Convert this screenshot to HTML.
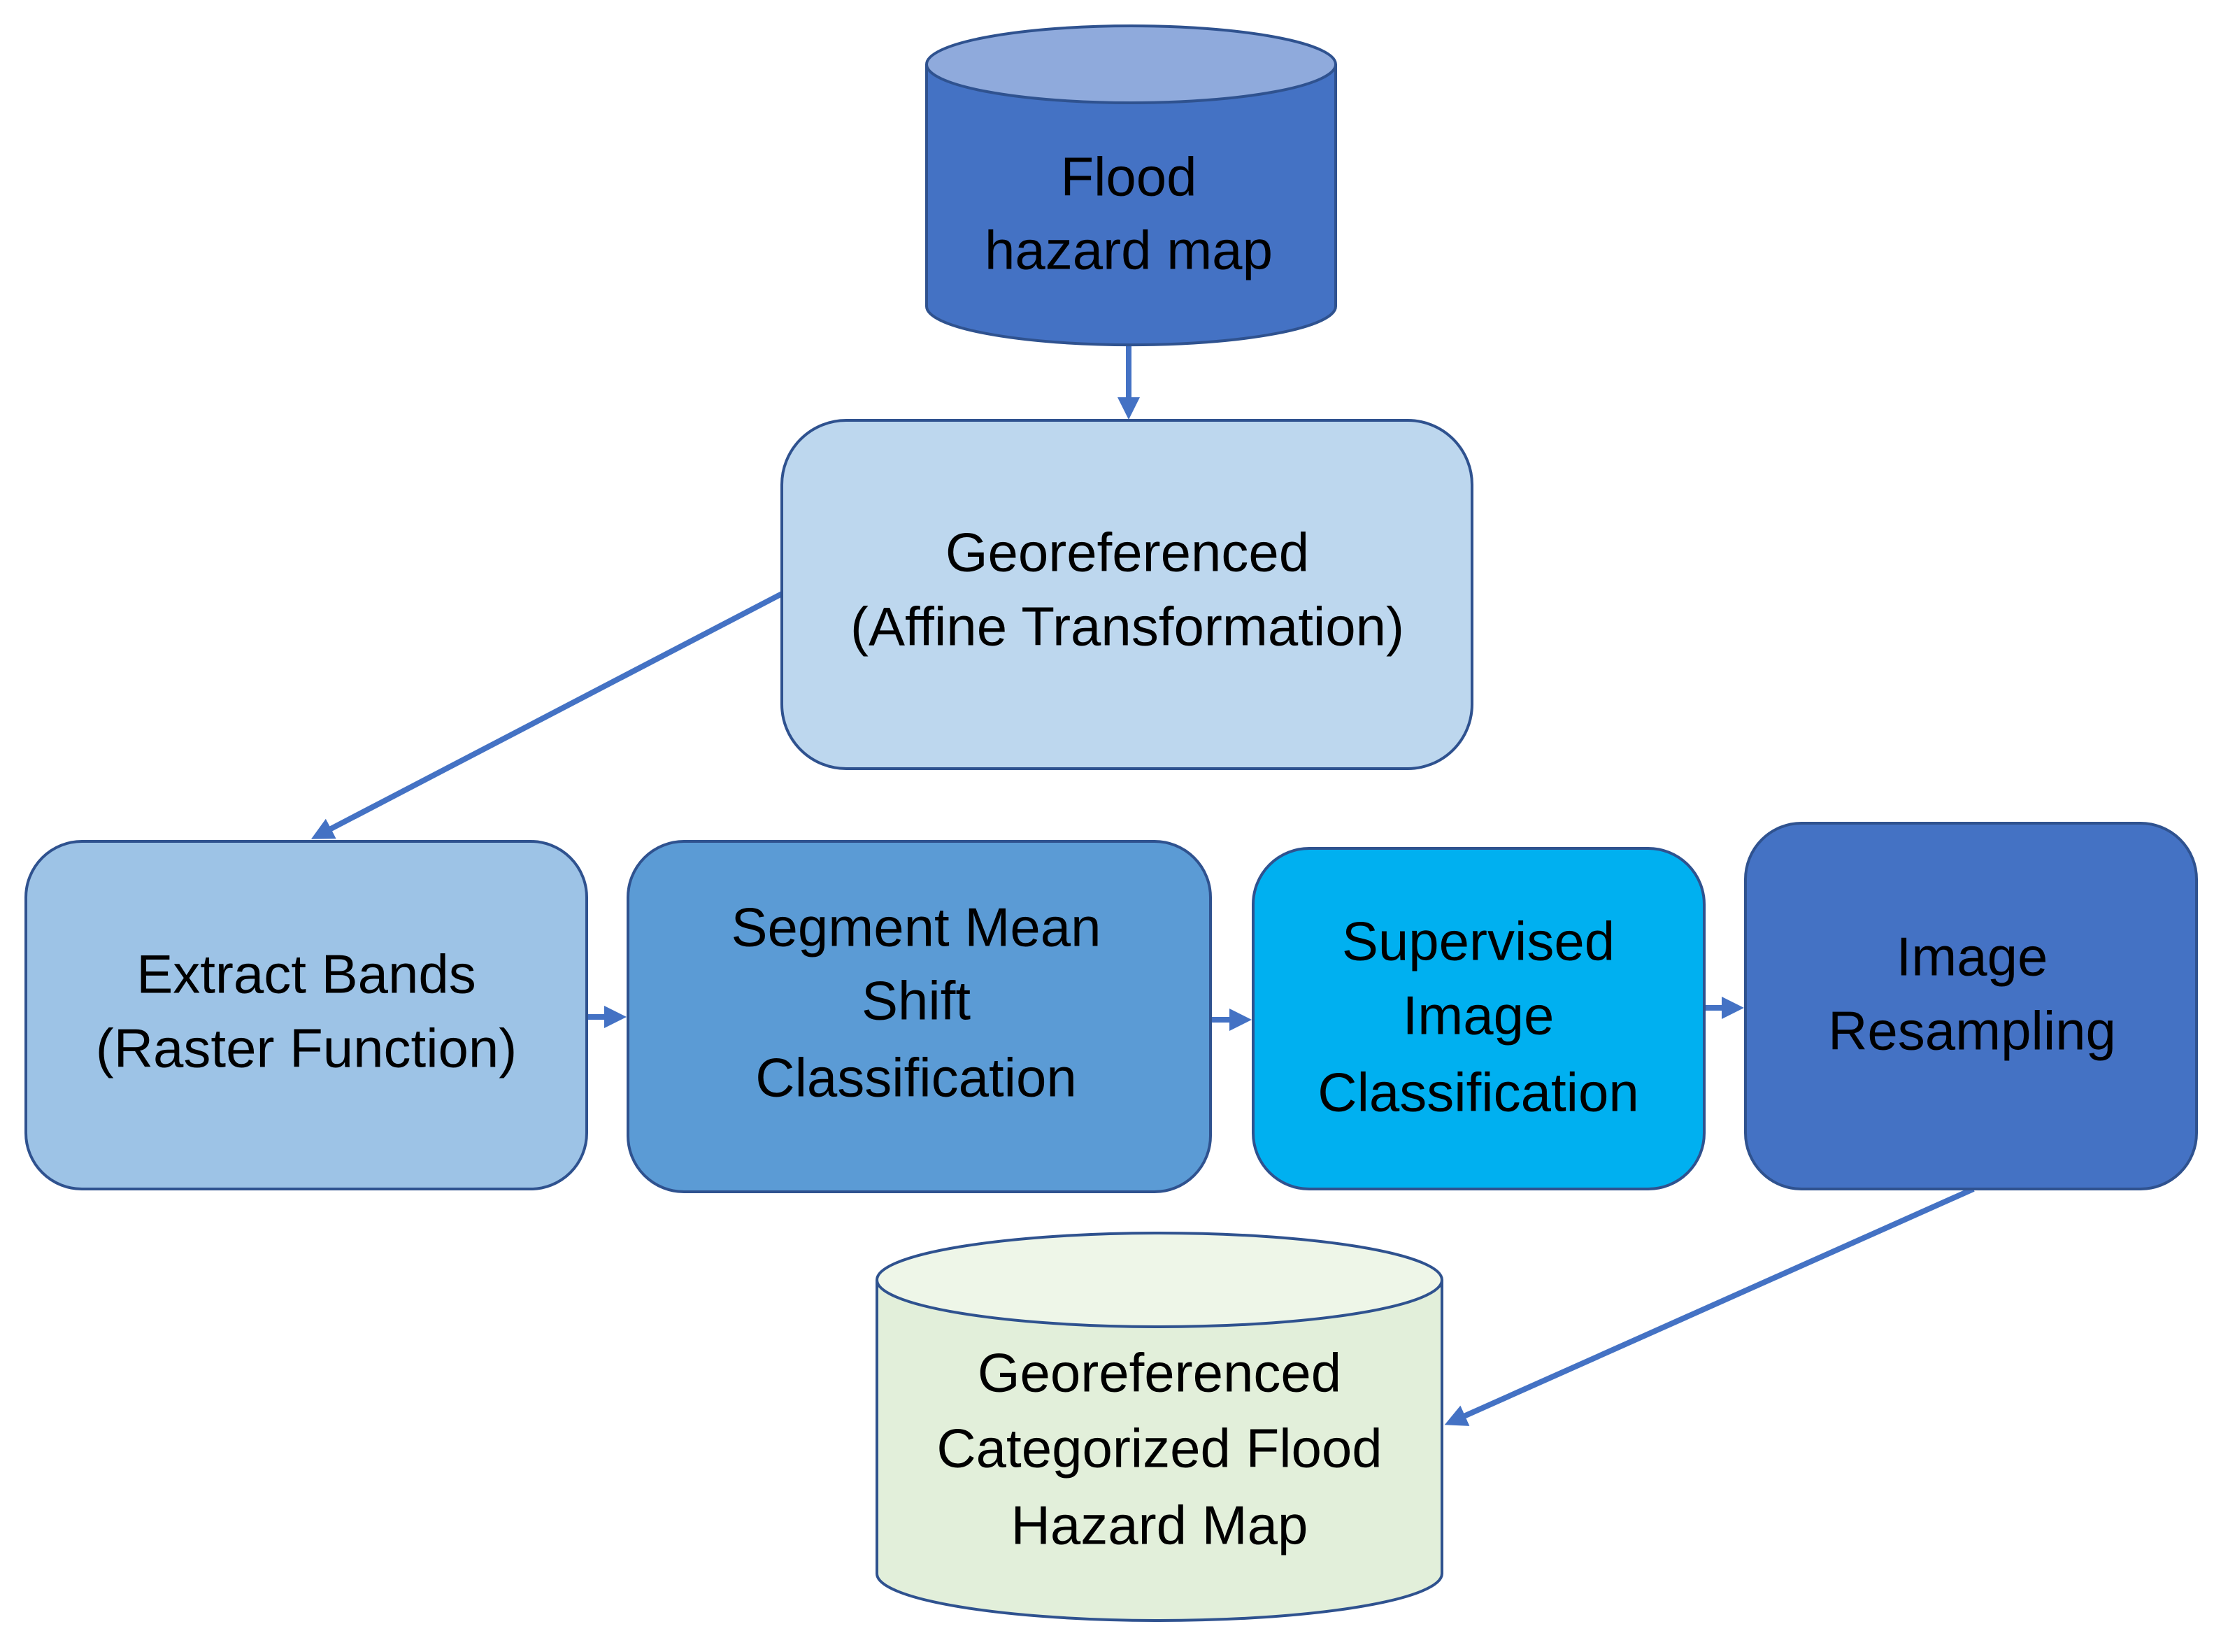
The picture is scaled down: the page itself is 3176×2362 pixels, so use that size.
<!DOCTYPE html>
<html><head><style>html,body{margin:0;padding:0;background:#fff}</style></head><body>
<svg width="3176" height="2357" viewBox="0 0 3176 2357" xmlns="http://www.w3.org/2000/svg">
<defs>
<marker id="ah" markerWidth="4" markerHeight="4" refX="3" refY="2" orient="auto" markerUnits="strokeWidth">
<path d="M0,0 L4,2 L0,4 z" fill="#4472c4"/></marker>
</defs>
<rect width="3176" height="2357" fill="#fff"/>
<g stroke="#4472c4" stroke-width="8" fill="none">
<line x1="1614" y1="493" x2="1614" y2="592" marker-end="url(#ah)"/>
<line x1="1118" y1="849" x2="452" y2="1196" marker-end="url(#ah)"/>
<line x1="839" y1="1454" x2="888" y2="1454" marker-end="url(#ah)"/>
<line x1="1731" y1="1458" x2="1782" y2="1458" marker-end="url(#ah)"/>
<line x1="2437" y1="1441" x2="2486" y2="1441" marker-end="url(#ah)"/>
<line x1="2822" y1="1700" x2="2073" y2="2034" marker-end="url(#ah)"/>
</g>
<g stroke="#2f528f" stroke-width="4">
<path d="M1325,92 L1325,438 A292,55 0 0 0 1910,438 L1910,92" fill="#4472c4"/>
<ellipse cx="1617.5" cy="92" rx="292.5" ry="55" fill="#8faadc"/>
<rect x="1118" y="601" width="987" height="498" rx="92" fill="#bdd7ee"/>
<rect x="37" y="1203" width="802" height="497" rx="80" fill="#9dc3e6"/>
<rect x="898" y="1203" width="833" height="501" rx="80" fill="#5b9bd5"/>
<rect x="1792" y="1213" width="645" height="487" rx="80" fill="#00b0f0"/>
<rect x="2496" y="1177" width="645" height="523" rx="80" fill="#4472c4"/>
<path d="M1254,1830 L1254,2250 A404,67 0 0 0 2062,2250 L2062,1830" fill="#e2efda"/>
<ellipse cx="1658" cy="1830" rx="404" ry="67" fill="#eef6e8"/>
</g>
<g font-family="'Liberation Sans', sans-serif" font-size="78" fill="#000" text-anchor="middle" dominant-baseline="middle">
<text x="1614" y="259">Flood</text>
<text x="1614" y="364">hazard map</text>
<text x="1612" y="796">Georeferenced</text>
<text x="1612" y="902">(Affine Transformation)</text>
<text x="438" y="1399">Extract Bands</text>
<text x="438" y="1505">(Raster Function)</text>
<text x="1310" y="1332">Segment Mean</text>
<text x="1310" y="1437">Shift</text>
<text x="1310" y="1547">Classification</text>
<text x="2114" y="1352">Supervised</text>
<text x="2114" y="1458">Image</text>
<text x="2114" y="1568">Classification</text>
<text x="2820" y="1374">Image</text>
<text x="2820" y="1480">Resampling</text>
<text x="1658" y="1969">Georeferenced</text>
<text x="1658" y="2077">Categorized Flood</text>
<text x="1658" y="2187">Hazard Map</text>
</g>
</svg>
</body></html>
